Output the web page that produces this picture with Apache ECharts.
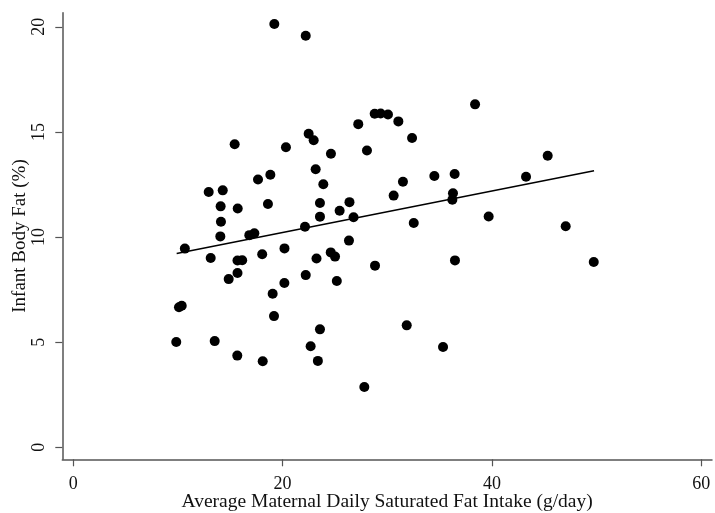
<!DOCTYPE html>
<html><head><meta charset="utf-8">
<script src="https://cdn.jsdelivr.net/npm/echarts@6/dist/echarts.min.js"></script>
<style>html,body{margin:0;padding:0;background:#fff}#c{width:715px;height:513px}</style>
</head><body><div id="c"></div>
<script>
const satFat = [19.21,22.21,15.42,20.32,22.49,22.97,23.16,17.65,18.83,12.94,14.28,14.08,15.71,18.60,23.57,23.57,14.11,14.05,22.14,16.82,17.30,24.62,23.89,25.45,26.39,26.78,26.34,10.66,20.18,24.60,25.01,18.05,13.13,15.69,16.14,23.24,15.69,14.85,22.21,20.17,19.05,10.10,10.36,19.18,9.84,13.51,15.67,18.10,22.68,23.57,23.37,28.83,25.18,36.47,31.86,35.33,27.81,28.80,29.37,30.07,31.06,27.23,32.37,28.06,30.61,31.50,34.50,36.44,36.28,36.22,32.53,38.39,45.33,43.26,39.69,47.05,49.73];
const bodyFat = [20.13,19.57,14.41,14.27,14.91,14.60,13.22,12.74,12.96,12.14,12.22,11.46,11.36,11.57,11.62,10.97,10.73,10.03,10.49,10.09,10.18,13.96,12.51,11.25,11.66,10.94,9.83,9.45,9.46,9.27,9.07,9.18,9.00,8.88,8.90,8.98,8.29,8.00,8.19,7.81,7.30,6.66,6.73,6.24,5.01,5.05,4.36,4.09,4.81,5.61,4.11,8.64,7.91,8.89,5.80,4.77,2.87,15.86,15.88,15.83,15.50,15.37,14.71,14.12,11.97,12.63,12.90,13.00,12.08,11.77,10.67,16.31,13.87,12.87,10.98,10.51,8.81];
const fitX = [9.88, 49.76];
const fitY = [9.22, 13.15];
const xTicks = [0, 20, 40, 60];
const yTicks = [0, 5, 10, 15, 20];
const xTitle = 'Average Maternal Daily Saturated Fat Intake (g/day)';
const yTitle = 'Infant Body Fat (%)';

const FONT = 'Liberation Serif';
const axisCol = '#555';
const chart = echarts.init(document.getElementById('c'), null, {renderer: 'canvas'});
chart.setOption({
  animation: false,
  backgroundColor: '#fff',
  grid: {left: 62.3, right: 3, top: 12.7, bottom: 53.7, containLabel: false, outerBoundsMode: 'none'},
  xAxis: {
    type: 'value', min: -1.05, max: 61.03,
    splitLine: {show: false},
    axisLine: {onZero: false, lineStyle: {color: axisCol, width: 1.5}},
    axisTick: {show: true, customValues: xTicks, length: 7, lineStyle: {color: axisCol, width: 1.2}},
    axisLabel: {customValues: xTicks, margin: 16, fontFamily: FONT, fontSize: 18, color: '#111'},
    name: xTitle, nameLocation: 'middle', nameGap: 33, nameMoveOverlap: false,
    nameTextStyle: {fontFamily: FONT, fontSize: 19.5, color: '#111'}
  },
  yAxis: {
    type: 'value', min: -0.571, max: 20.67,
    splitLine: {show: false},
    axisLine: {onZero: false, lineStyle: {color: axisCol, width: 1.5}},
    axisTick: {show: true, customValues: yTicks, length: 7, lineStyle: {color: axisCol, width: 1.2}},
    axisLabel: {customValues: yTicks, rotate: 90, margin: 14, fontFamily: FONT, fontSize: 18, color: '#111'},
    name: yTitle, nameLocation: 'middle', nameGap: 33, nameRotate: 90, nameMoveOverlap: false,
    nameTextStyle: {fontFamily: FONT, fontSize: 19, color: '#111'}
  },
  series: [
    {
      type: 'scatter', symbol: 'circle', symbolSize: 10,
      itemStyle: {color: '#000', opacity: 1},
      data: satFat.map((x, i) => [x, bodyFat[i]]),
      z: 3
    },
    {
      type: 'line', symbol: 'none',
      lineStyle: {color: '#000', width: 1.5},
      data: fitX.map((x, i) => [x, fitY[i]]),
      z: 2
    }
  ]
});
</script>
</body></html>
